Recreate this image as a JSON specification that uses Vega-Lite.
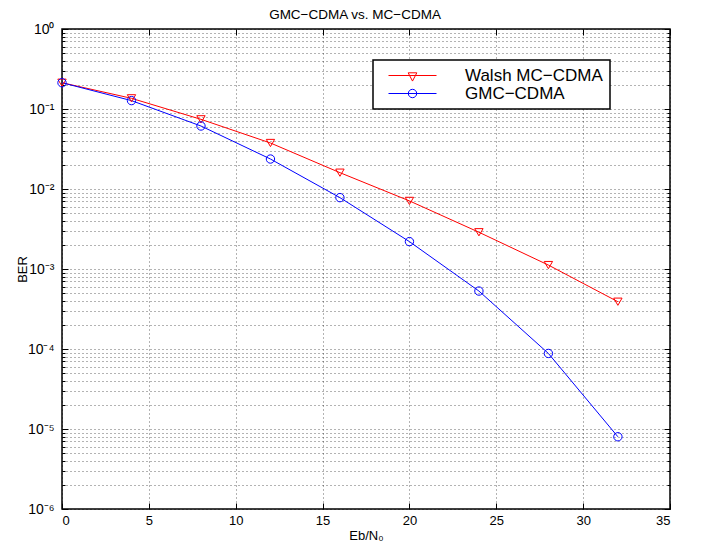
{
  "$schema": "https://vega.github.io/schema/vega-lite/v6.json",
  "width": 608,
  "height": 480,
  "autosize": {"type": "none"},
  "padding": {"left": 62, "top": 29, "right": 32, "bottom": 39},
  "background": "#ffffff",
  "title": {"text": "GMC−CDMA vs. MC−CDMA", "font": "Liberation Sans", "fontSize": 13.5, "fontWeight": "normal", "color": "#000000", "offset": 9, "baseline": "alphabetic", "anchor": "middle", "dx": -11, "dy": 19},
  "config": {
    "view": {"stroke": "#000000", "strokeWidth": 1.5},
    "axis": {"labelFont": "Liberation Sans", "labelFontSize": 13, "labelColor": "#000000", "titleFont": "Liberation Sans", "titleFontSize": 13, "titleFontWeight": "normal", "titleColor": "#000000", "domain": false, "tickColor": "#000000", "tickWidth": 1, "gridColor": "#000000", "gridOpacity": 0.6, "gridDash": [1, 3], "gridWidth": 1}
  },
  "data": {"values": [
    {"snr": 0, "ber": 0.213, "series": "Walsh MC−CDMA"},
    {"snr": 4, "ber": 0.136, "series": "Walsh MC−CDMA"},
    {"snr": 8, "ber": 0.0743, "series": "Walsh MC−CDMA"},
    {"snr": 12, "ber": 0.0376, "series": "Walsh MC−CDMA"},
    {"snr": 16, "ber": 0.016, "series": "Walsh MC−CDMA"},
    {"snr": 20, "ber": 0.0071, "series": "Walsh MC−CDMA"},
    {"snr": 24, "ber": 0.00288, "series": "Walsh MC−CDMA"},
    {"snr": 28, "ber": 0.00112, "series": "Walsh MC−CDMA"},
    {"snr": 32, "ber": 0.00039, "series": "Walsh MC−CDMA"},
    {"snr": 0, "ber": 0.213, "series": "GMC−CDMA"},
    {"snr": 4, "ber": 0.1273, "series": "GMC−CDMA"},
    {"snr": 8, "ber": 0.0613, "series": "GMC−CDMA"},
    {"snr": 12, "ber": 0.0237, "series": "GMC−CDMA"},
    {"snr": 16, "ber": 0.0078, "series": "GMC−CDMA"},
    {"snr": 20, "ber": 0.0022, "series": "GMC−CDMA"},
    {"snr": 24, "ber": 0.00053, "series": "GMC−CDMA"},
    {"snr": 28, "ber": 0.000088, "series": "GMC−CDMA"},
    {"snr": 32, "ber": 0.000008, "series": "GMC−CDMA"}
  ]},
  "layer": [
    {
      "mark": {"type": "line", "strokeWidth": 1},
      "encoding": {
        "x": {"field": "snr", "type": "quantitative", "scale": {"domain": [0, 35], "nice": false, "zero": false},
          "axis": {"orient": "bottom", "values": [0, 5, 10, 15, 20, 25, 30, 35], "grid": true, "tickSize": -6, "labelPadding": 11, "title": "Eb/N₀", "titleBaseline": "alphabetic", "titleY": 30}},
        "y": {"field": "ber", "type": "quantitative", "scale": {"type": "log", "domain": [0.000001, 1], "nice": false},
          "axis": {"orient": "left", "grid": true,
            "values": [0.000001, 0.000002, 0.000003, 0.000004, 0.000005, 0.000006, 0.000007, 0.000008, 0.000009, 0.00001, 0.00002, 0.00003, 0.00004, 0.00005, 0.00006, 0.00007, 0.00008, 0.00009, 0.0001, 0.0002, 0.0003, 0.0004, 0.0005, 0.0006, 0.0007, 0.0008, 0.0009, 0.001, 0.002, 0.003, 0.004, 0.005, 0.006, 0.007, 0.008, 0.009, 0.01, 0.02, 0.03, 0.04, 0.05, 0.06, 0.07, 0.08, 0.09, 0.1, 0.2, 0.3, 0.4, 0.5, 0.6, 0.7, 0.8, 0.9, 1],
            "labelExpr": "abs(log(datum.value)/LN10 - round(log(datum.value)/LN10)) < 0.001 ? (round(log(datum.value)/LN10) == 0 ? '10⁰' : '10⁻' + ['','¹','²','³','⁴','⁵','⁶'][-round(log(datum.value)/LN10)]) : ''",
            "tickSize": {"condition": {"test": "abs(log(datum.value)/LN10 - round(log(datum.value)/LN10)) < 0.001", "value": -6}, "value": -3},
            "labelPadding": 14, "labelFontSize": 14, "labelBaseline": "middle", "labelOverlap": false,
            "title": "BER", "titleX": -36, "titleBaseline": "alphabetic"}},
        "color": {"field": "series", "type": "nominal",
          "scale": {"domain": ["Walsh MC−CDMA", "GMC−CDMA"], "range": ["#ff0000", "#0000ff"]},
          "legend": {"orient": "none", "legendX": 311, "legendY": 31, "title": null, "symbolSize": 144, "symbolStrokeWidth": 1, "symbolOffset": 24, "labelOffset": 44, "labelFont": "Liberation Sans", "labelFontSize": 17, "labelColor": "#000000", "labelLimit": 400, "rowPadding": 0, "padding": 7, "strokeColor": "#000000", "fillColor": "#ffffff",
            "labelExpr": "datum.label + '\u00a0\u00a0\u00a0\u00a0\u00a0\u00a0\u00a0\u00a0'",
            "encode": {
              "legend": {"update": {"strokeWidth": {"value": 1.5}}},
              "symbols": {"update": {"shape": {"signal": "datum.value == 'GMC−CDMA' ? 'M-4,0H4M0.7,0A0.7,0.7 0 1,1 -0.7,0A0.7,0.7 0 1,1 0.7,0' : 'M-4,0H4M-0.72,-0.45H0.72L0,0.93Z'"}, "fill": {"value": "transparent"}, "strokeWidth": {"value": 1}}}
            }}}
      }
    },
    {
      "transform": [{"filter": "datum.series == 'Walsh MC−CDMA'"}],
      "mark": {"type": "point", "shape": "triangle-down", "filled": false, "strokeWidth": 1, "size": 70, "opacity": 1, "color": "#ff0000"},
      "encoding": {
        "x": {"field": "snr", "type": "quantitative",
          "axis": {"orient": "top", "values": [0, 5, 10, 15, 20, 25, 30, 35], "grid": false, "labels": false, "tickSize": -6, "title": null}},
        "y": {"field": "ber", "type": "quantitative",
          "axis": {"orient": "right", "grid": false, "labels": false, "title": null,
            "values": [0.000001, 0.000002, 0.000003, 0.000004, 0.000005, 0.000006, 0.000007, 0.000008, 0.000009, 0.00001, 0.00002, 0.00003, 0.00004, 0.00005, 0.00006, 0.00007, 0.00008, 0.00009, 0.0001, 0.0002, 0.0003, 0.0004, 0.0005, 0.0006, 0.0007, 0.0008, 0.0009, 0.001, 0.002, 0.003, 0.004, 0.005, 0.006, 0.007, 0.008, 0.009, 0.01, 0.02, 0.03, 0.04, 0.05, 0.06, 0.07, 0.08, 0.09, 0.1, 0.2, 0.3, 0.4, 0.5, 0.6, 0.7, 0.8, 0.9, 1],
            "tickSize": {"condition": {"test": "abs(log(datum.value)/LN10 - round(log(datum.value)/LN10)) < 0.001", "value": -6}, "value": -3}}}
      }
    },
    {
      "transform": [{"filter": "datum.series == 'GMC−CDMA'"}],
      "mark": {"type": "point", "shape": "circle", "filled": false, "strokeWidth": 1, "size": 70, "opacity": 1, "color": "#0000ff"},
      "encoding": {
        "x": {"field": "snr", "type": "quantitative", "axis": null},
        "y": {"field": "ber", "type": "quantitative", "axis": null}
      }
    }
  ],
  "resolve": {"axis": {"x": "independent", "y": "independent"}}
}
